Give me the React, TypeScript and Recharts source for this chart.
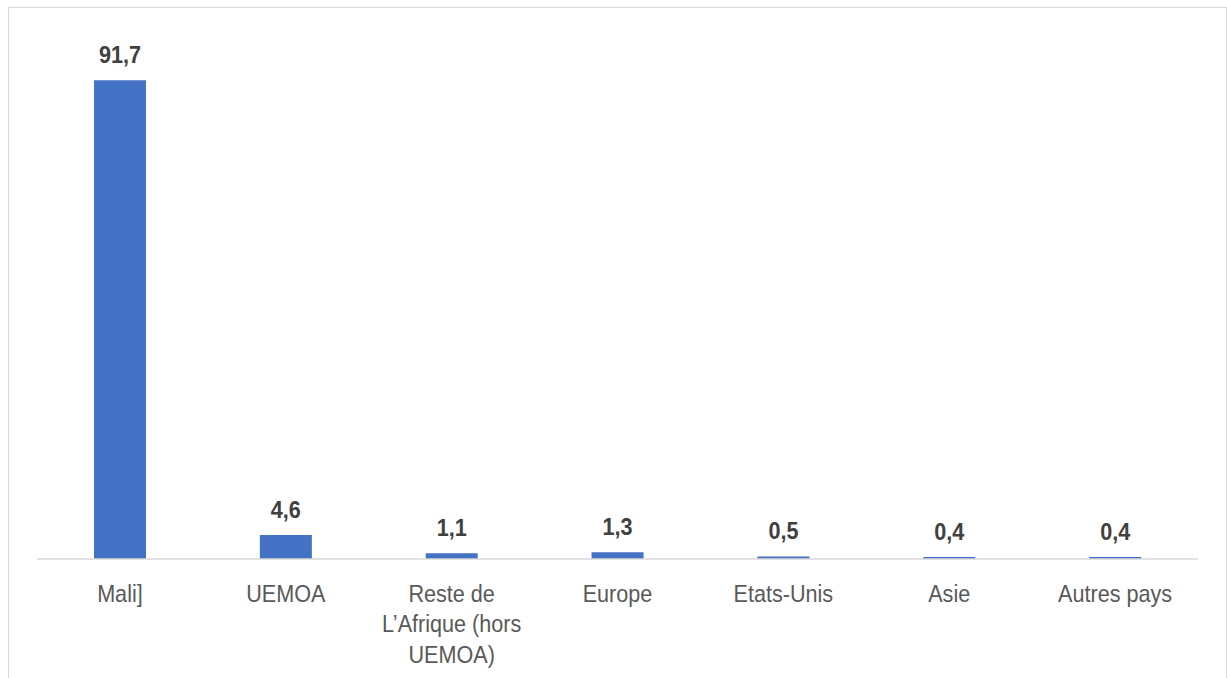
import React from 'react';
import { BarChart, Bar, XAxis, YAxis, LabelList } from 'recharts';

const categories = ['Mali]', 'UEMOA', 'Reste de L’Afrique (hors UEMOA)', 'Europe', 'Etats-Unis', 'Asie', 'Autres pays'];
const values = [91.7, 4.6, 1.1, 1.3, 0.5, 0.4, 0.4];

const data = categories.map((name, i) => ({ name, value: values[i] }));

const FONT = '"Liberation Sans Narrow", "Arial Narrow", "Liberation Sans", Arial, sans-serif';
const SQUEEZE = 0.9; // the original font is a bit condensed

// wrap long category names on words, like the original
const wrap = (text: string, max = 16) => {
    const lines: string[] = [];
    let cur = '';
    text.split(' ').forEach((w) => {
        const next = cur ? cur + ' ' + w : w;
        if (next.length > max && cur) {
            lines.push(cur);
            cur = w;
        } else {
            cur = next;
        }
    });
    if (cur) lines.push(cur);
    return lines;
};

const CategoryTick = (props: any) => {
    const { x, y, payload } = props;
    const lines = wrap(String(payload.value));
    return (
        <g transform={`translate(${x},${y}) scale(${SQUEEZE},1)`}>
            <text x={0} y={0} textAnchor="middle" fill="#595959" fontSize={24} fontFamily={FONT}>
                {lines.map((l, i) => (
                    <tspan key={i} x={0} dy={i === 0 ? 43 : 30.5}>{l}</tspan>
                ))}
            </text>
        </g>
    );
};

const ValueLabel = (props: any) => {
    const { x, y, width, value } = props;
    const cx = Number(x) + Number(width) / 2;
    return (
        <g transform={`translate(${cx},${Number(y) - 17}) scale(${SQUEEZE},1)`}>
            <text x={0} y={0} textAnchor="middle" fill="#404040" fontSize={24} fontWeight="bold" fontFamily={FONT}>
                {String(value).replace('.', ',')}
            </text>
        </g>
    );
};

const App: React.FC = () => {
    return (
        <div style={{ position: 'absolute', left: 8, top: 7, width: 1217, height: 670, border: '1px solid #d9d9d9', borderBottom: 'none', background: 'white' }}>
            <BarChart width={1217} height={670} data={data} margin={{ top: 29, right: 28, left: 28, bottom: 0 }}>
                <YAxis hide domain={[0, 100]} />
                <XAxis
                    dataKey="name"
                    interval={0}
                    height={119}
                    tickLine={false}
                    tickSize={0}
                    tickMargin={0}
                    axisLine={{ stroke: '#d9d9d9', strokeWidth: 1.5 }}
                    tick={<CategoryTick />}
                />
                <Bar dataKey="value" fill="#4472C4" barSize={52} isAnimationActive={false}>
                    <LabelList dataKey="value" content={<ValueLabel />} />
                </Bar>
            </BarChart>
        </div>
    );
};

export default App;
